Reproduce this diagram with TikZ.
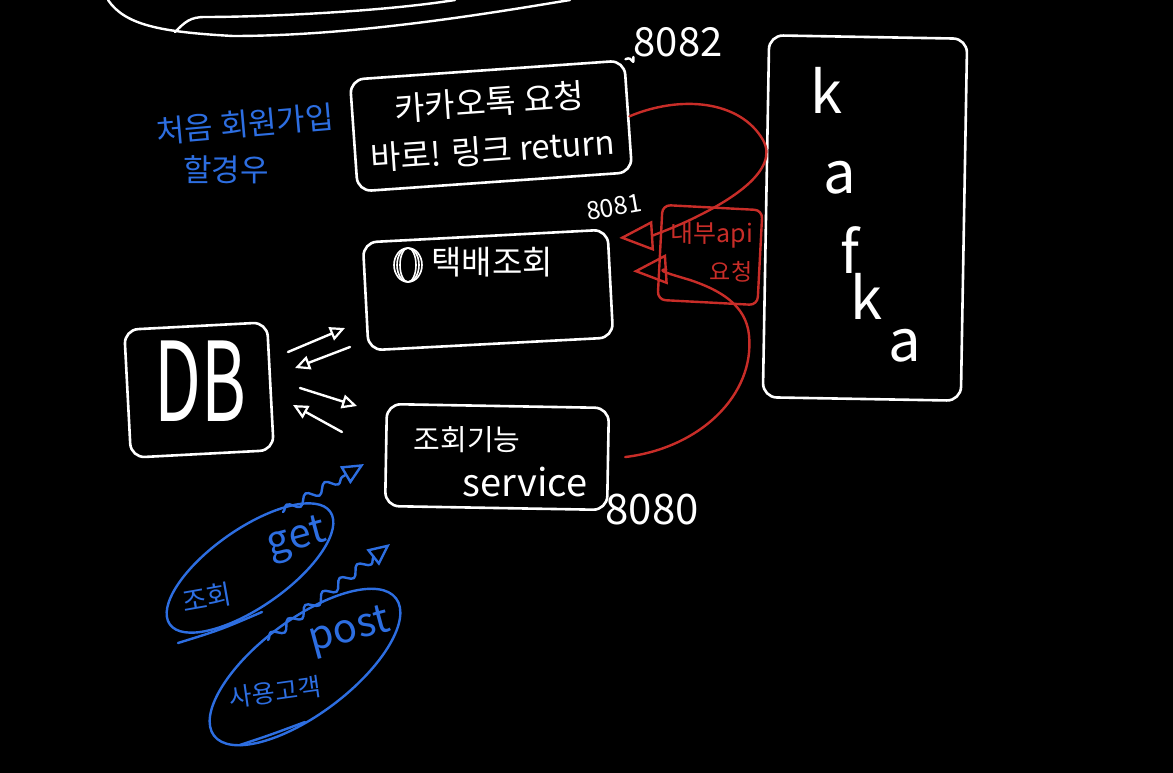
\documentclass[tikz,border=0pt]{standalone}
\usepackage{fontspec}
\setmainfont{Noto Sans CJK KR}
\usetikzlibrary{arrows.meta,shapes.geometric,decorations.pathmorphing,calc}
\definecolor{inkred}{RGB}{200,45,40}
\definecolor{inkblue}{RGB}{45,110,225}
\begin{document}
\begin{tikzpicture}[x=1pt,y=-1pt,
 wbox/.style={draw=white, line width=2.6pt, rounded corners=14pt, inner sep=0pt},
 wtext/.style={text=white, inner sep=0pt},
 rtext/.style={text=inkred, inner sep=0pt},
 btext/.style={text=inkblue, inner sep=0pt},
 redline/.style={draw=inkred, line width=2.4pt, line cap=round, line join=round},
 blueline/.style={draw=inkblue, line width=2.4pt, line cap=round, line join=round},
 whiteline/.style={draw=white, line width=2.4pt, line cap=round, line join=round},
 bigtip/.style={-{Triangle[open,length=34pt,width=30pt,line width=2.4pt]}},
 smalltip/.style={-{Triangle[open,length=15pt,width=14pt,line width=2.2pt]}},
 bluetip/.style={-{Triangle[open,length=22pt,width=20pt,line width=2.4pt]}},
 squiggle/.style={decorate, decoration={snake, amplitude=4.5pt, segment length=22pt, post length=20pt}}
]
\fill[black] (0,0) rectangle (1173,773);
\useasboundingbox (0,0) rectangle (1173,773);

% partial shape at the top
\draw[whiteline] (108,0) .. controls (125,25) and (160,32) .. (233,36) .. controls (350,36) and (480,15) .. (570,0);
\draw[whiteline] (175,32) .. controls (185,22) and (190,17) .. (205,17) .. controls (260,17) and (380,12) .. (455,0);

% boxes
\node[wbox, minimum width=275pt, minimum height=112pt, rotate=4, align=center, text=white,
      font=\fontsize{33}{48}\selectfont] (kakao) at (491,126) {카카오톡 요청\\바로! 링크 return};

\node[wbox, minimum width=245pt, minimum height=108pt, rotate=3] (track) at (488,290) {};
\node[wtext, font=\fontsize{33}{33}\selectfont] (tracktext) at (492,262) {택배조회};
\foreach \r in {8,11,14}
  \draw[draw=white, line width=1.6pt] (408,265) ellipse (\r pt and 17pt);

\node[wbox, minimum width=222pt, minimum height=102pt, rotate=-1] (svc) at (497,457) {};
\node[wtext, font=\fontsize{29}{29}\selectfont] (svctext1) at (467,440) {조회기능};
\node[wtext, font=\fontsize{38}{38}\selectfont] (svctext2) at (525,482) {service};

\node[wbox, minimum width=143pt, minimum height=128pt, rotate=3] (db) at (199,390) {};
\node[wtext, font=\fontsize{110}{110}\selectfont] (dbtext) at (200,381) {\scalebox{0.62}[1]{DB}};

\node[wbox, minimum width=198pt, minimum height=362pt, rotate=-1] (kafka) at (865,218) {};
\node[wtext, font=\fontsize{58}{58}\selectfont] (k1) at (826,90) {k};
\node[wtext, font=\fontsize{58}{58}\selectfont] (k2) at (840,178) {a};
\node[wtext, font=\fontsize{58}{58}\selectfont] (k3) at (850,250) {f};
\node[wtext, font=\fontsize{58}{58}\selectfont] (k4) at (866,296) {k};
\node[wtext, font=\fontsize{58}{58}\selectfont] (k5) at (905,346) {a};

% internal api request box
\node[draw=inkred, line width=2.4pt, rounded corners=8pt, minimum width=100pt, minimum height=95pt, rotate=-3] (api) at (710,255) {};
\node[rtext, font=\fontsize{25}{25}\selectfont] (apitext1) at (712,235) {내부api};
\node[rtext, font=\fontsize{23}{23}\selectfont] (apitext2) at (731,272) {요청};

% ports
\node[wtext, font=\fontsize{40}{40}\selectfont] (p8082) at (678,42) {8082};
\node[wtext, font=\fontsize{25}{25}\selectfont, rotate=10] (p8081) at (614,207) {8081};
\node[wtext, font=\fontsize{42}{42}\selectfont] (p8080) at (652,510) {8080};
\draw[whiteline] (kakao.north east) .. controls +(8,-4) and +(0,12) .. (p8082.south west);

% red connectors
\draw[redline, bigtip, shorten >=10pt] (kakao.east) .. controls (680,95) and (740,100) .. (763,140)
   .. controls (780,170) and (730,200) .. (700,215) .. controls (675,228) and (650,236) .. (track.20);
\draw[redline, bigtip, shorten <=16pt, shorten >=22pt] (svc.east) .. controls (700,448) and (755,395) .. (749,335)
   .. controls (746,305) and (720,290) .. (690,280) .. controls (670,274) and (655,270) .. (track.5);

% DB arrows
\coordinate (a1s) at (288,352); \coordinate (a1e) at (345,328);
\coordinate (a2s) at (350,347); \coordinate (a2e) at (295,368);
\coordinate (a3s) at (300,388); \coordinate (a3e) at (357,406);
\coordinate (a4s) at (342,432); \coordinate (a4e) at (293,405);
\draw[whiteline, smalltip] (a1s) -- (a1e);
\draw[whiteline, smalltip] (a2s) -- (a2e);
\draw[whiteline, smalltip] (a3s) -- (a3e);
\draw[whiteline, smalltip] (a4s) -- (a4e);

% blue notes
\node[btext, font=\fontsize{31}{31}\selectfont, rotate=5] (note1) at (245,124) {처음 회원가입};
\node[btext, font=\fontsize{31}{31}\selectfont] (note2) at (226,170) {할경우};

\draw[blueline, rotate around={35:(250,568)}] (250,568) ellipse (98pt and 39pt);
\draw[blueline, rotate around={37:(305,667)}] (305,667) ellipse (114pt and 47pt);
\draw[blueline] (178,643) .. controls (220,630) .. (262,612);
\draw[blueline] (240,745) .. controls (270,735) .. (305,722);
\node[btext, font=\fontsize{27}{27}\selectfont, rotate=10] (gettext1) at (207,598) {조회};
\node[btext, font=\fontsize{40}{40}\selectfont, rotate=15] (gettext2) at (297,540) {get};
\node[btext, font=\fontsize{25}{25}\selectfont, rotate=8] (posttext1) at (275,692) {사용고객};
\node[btext, font=\fontsize{40}{40}\selectfont, rotate=15] (posttext2) at (350,632) {post};

\coordinate (qa1) at (283,512); \coordinate (qa2) at (364,464);
\coordinate (qb1) at (268,640); \coordinate (qb2) at (390,544);
\draw[blueline, squiggle, bluetip] (qa1) -- (qa2);
\draw[blueline, squiggle, bluetip] (qb1) -- (qb2);
\end{tikzpicture}
\end{document}
